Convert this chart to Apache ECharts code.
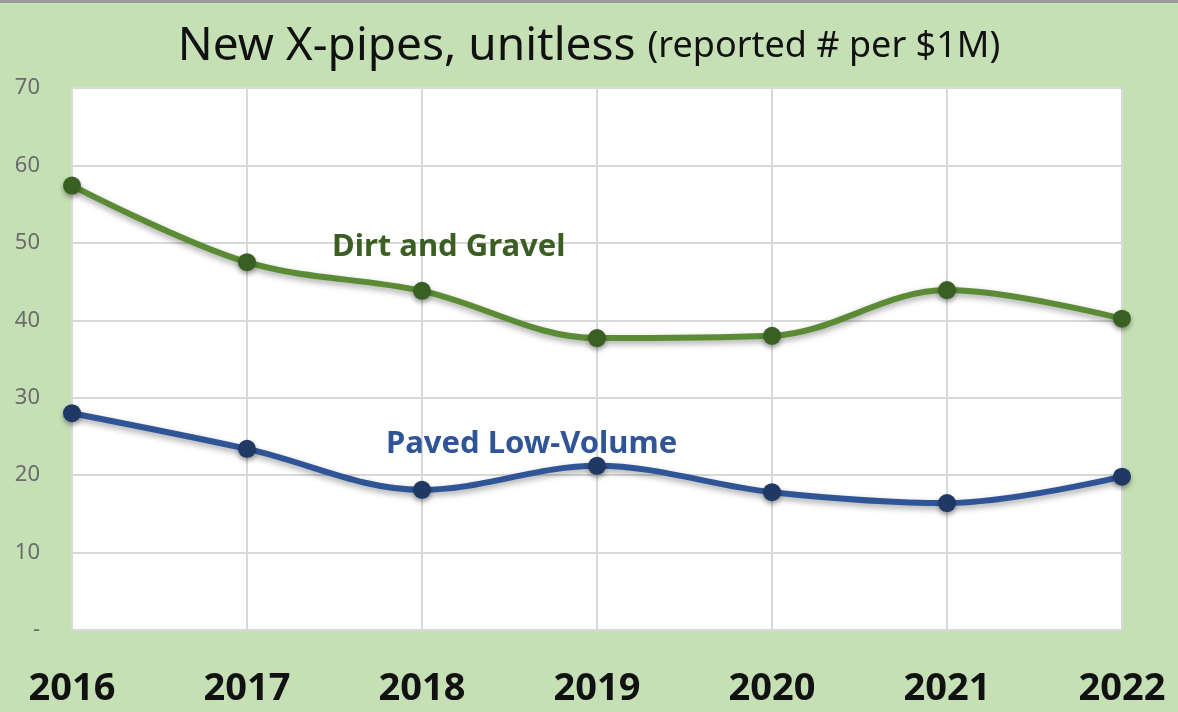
<!DOCTYPE html>
<html lang="en">
  <head>
    <meta charset="utf-8" />
    <title>New X-pipes, unitless</title>
    <script src="https://cdn.jsdelivr.net/npm/echarts@6/dist/echarts.min.js"></script>
    <style type="text/css">
      * {
        margin: 0;
        padding: 0;
      }
      html,
      body {
        width: 100%;
        height: 100%;
        overflow: hidden;
        background: #c5e0b4;
      }
      #chart {
        width: 1178px;
        height: 712px;
        box-sizing: border-box;
        border-top: 3px solid #9a9a9a;
      }
    </style>
  </head>
  <body>
    <div id="chart"></div>
    <script type="text/javascript">
      var years = ["2016", "2017", "2018", "2019", "2020", "2021", "2022"];
      var dirtGravel = [57.4, 47.5, 43.8, 37.7, 38.0, 43.9, 40.2];
      var pavedLowVolume = [28.0, 23.4, 18.1, 21.2, 17.8, 16.4, 19.8];
      var yTicks = [0, 10, 20, 30, 40, 50, 60, 70];

      var font = "'Noto Sans', 'Open Sans', sans-serif";
      var chart = echarts.init(document.getElementById("chart"));

      function lineSeries(name, data, lineColor, dotColor) {
        return {
          name: name,
          type: "line",
          data: data,
          smooth: 0.35,
          symbol: "circle",
          symbolSize: 18,
          lineStyle: {
            color: lineColor,
            width: 6,
            shadowColor: "rgba(0,0,0,0.35)",
            shadowBlur: 6,
            shadowOffsetY: 3
          },
          itemStyle: {
            color: dotColor,
            shadowColor: "rgba(0,0,0,0.35)",
            shadowBlur: 5,
            shadowOffsetY: 3
          },
          z: 3
        };
      }

      chart.setOption({
        animation: false,
        backgroundColor: "#c5e0b4",
        title: {
          text: "{a|New X-pipes, unitless} {b|(reported # per $1M)}",
          left: "center",
          top: 16,
          textStyle: {
            fontWeight: "normal",
            fontFamily: font,
            fontSize: 46,
            rich: {
              a: { fontFamily: font, fontSize: 46, fontWeight: "normal", color: "#111" },
              b: { fontFamily: font, fontSize: 36, fontWeight: "normal", color: "#111" }
            }
          }
        },
        grid: {
          left: 72,
          right: 56,
          top: 85,
          bottom: 82,
          show: true,
          backgroundColor: "#ffffff",
          borderColor: "#d9d9d9",
          borderWidth: 2
        },
        xAxis: {
          type: "category",
          data: years,
          boundaryGap: false,
          axisLine: { show: false },
          axisTick: { show: false },
          splitLine: { show: true, lineStyle: { color: "#d9d9d9", width: 2 } },
          axisLabel: {
            margin: 40,
            fontFamily: font,
            fontSize: 38,
            fontWeight: "bold",
            color: "#111"
          }
        },
        yAxis: {
          type: "value",
          min: yTicks[0],
          max: yTicks[yTicks.length - 1],
          interval: 10,
          axisLine: { show: false },
          axisTick: { show: false },
          splitLine: { lineStyle: { color: "#d9d9d9", width: 2 } },
          axisLabel: {
            margin: 32,
            fontFamily: font,
            fontSize: 22,
            color: "#6b6b6b",
            formatter: function (v) {
              return v === 0 ? "-" : String(v);
            }
          }
        },
        graphic: [
          {
            type: "text",
            left: 332,
            top: 229,
            style: {
              text: "Dirt and Gravel",
              font: "bold 31px " + font,
              fill: "#3b5e22",
              shadowColor: "rgba(0,0,0,0.25)",
              shadowBlur: 10
            },
            z: 10
          },
          {
            type: "text",
            left: 386,
            top: 426,
            style: {
              text: "Paved Low-Volume",
              font: "bold 31px " + font,
              fill: "#2f5597"
            },
            z: 10
          }
        ],
        series: [
          lineSeries("Dirt and Gravel", dirtGravel, "#5b8c35", "#3a5f23"),
          lineSeries("Paved Low-Volume", pavedLowVolume, "#2f5597", "#1f3864")
        ]
      });
    </script>
  </body>
</html>
